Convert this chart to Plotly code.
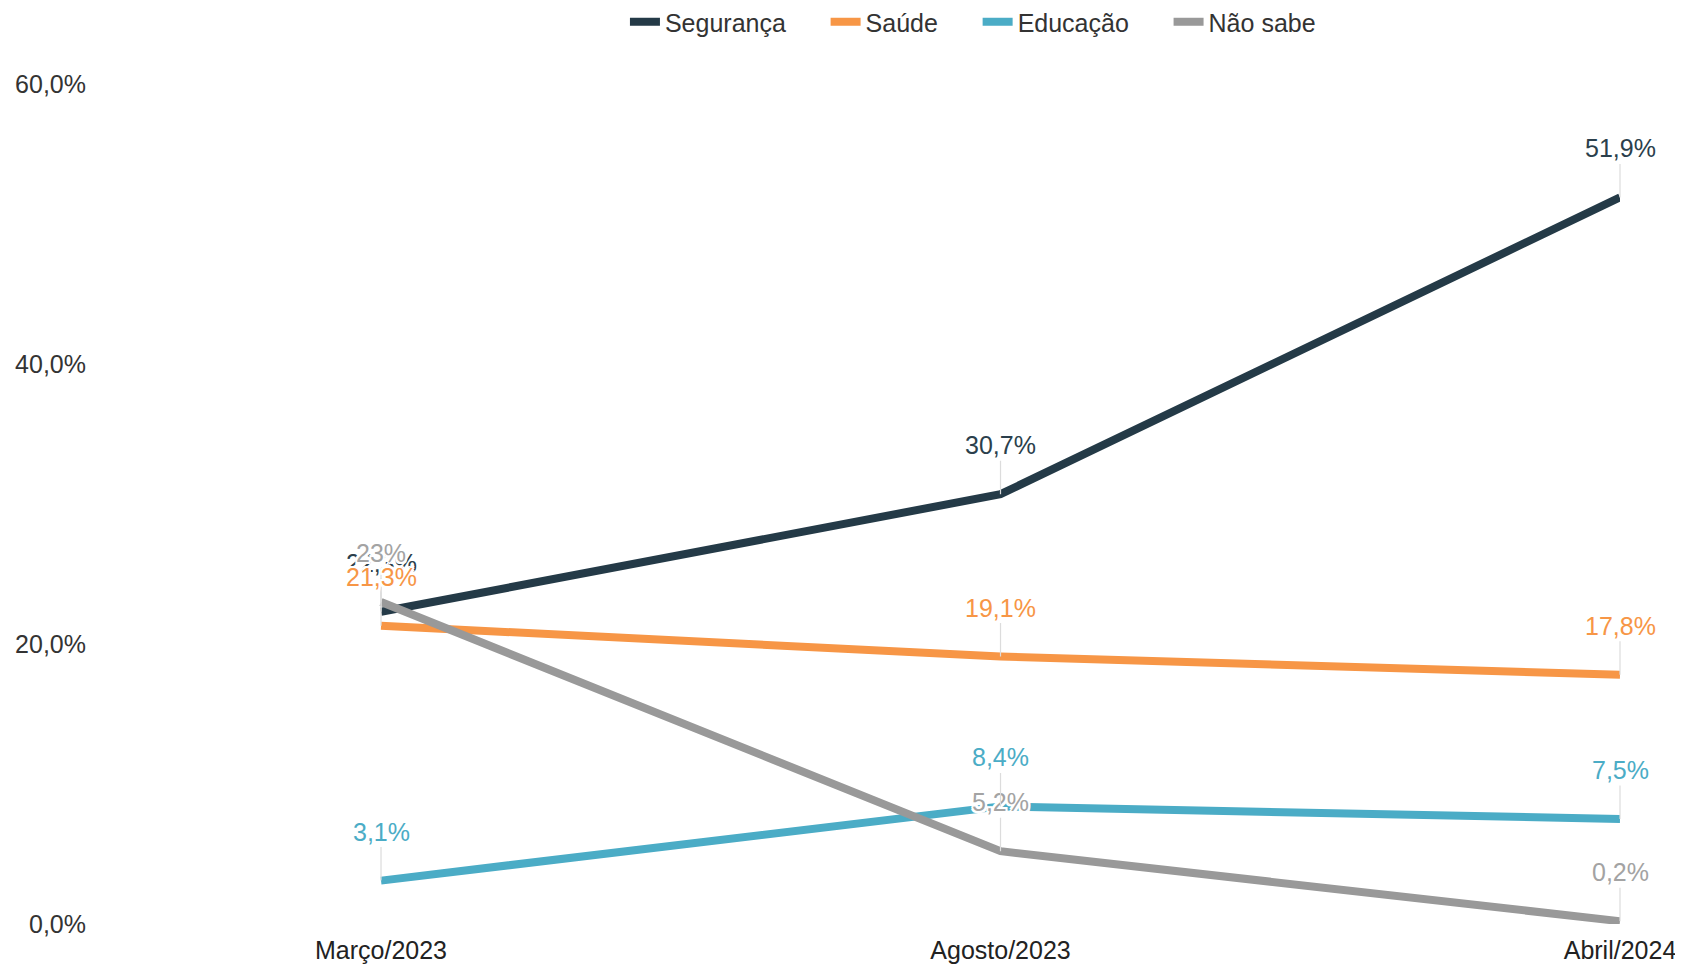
"""Line chart: priority issues over three survey waves."""

import plotly.graph_objects as go

PERIODS = ["Março/2023", "Agosto/2023", "Abril/2024"]

SEGURANCA = [22.3, 30.7, 51.9]
SAUDE = [21.3, 19.1, 17.8]
EDUCACAO = [3.1, 8.4, 7.5]
NAO_SABE = [23, 5.2, 0.2]

Y_TICKS = [0, 20, 40, 60]

FONT = "Liberation Sans, Arial, sans-serif"
FS = 25
HALO = ("2px 0 0 #fff, -2px 0 0 #fff, 0 2px 0 #fff, 0 -2px 0 #fff, "
        "2px 2px 0 #fff, -2px -2px 0 #fff, 2px -2px 0 #fff, -2px 2px 0 #fff")

# name, values, line colour, label colour
SERIES = [
    ("Segurança", SEGURANCA, "#243a47", "#2b3f4c"),
    ("Saúde", SAUDE, "#f79646", "#f79646"),
    ("Educação", EDUCACAO, "#4bacc6", "#4bacc6"),
    ("Não sabe", NAO_SABE, "#999999", "#a3a3a3"),
]
LABEL_ORDER = ["Segurança", "Não sabe", "Saúde", "Educação"]


def pct_label(v):
    if float(v).is_integer():
        return f"{int(v)}%"
    return f"{v:.1f}%".replace(".", ",")


fig = go.Figure()
x_idx = list(range(len(PERIODS)))
for k, (name, values, color, _) in enumerate(SERIES):
    pad = "\u00a0" * 5 if k < len(SERIES) - 1 else ""
    fig.add_trace(
        go.Scatter(
            x=x_idx,
            y=values,
            mode="lines",
            name=name + pad,
            line=dict(color=color, width=8),
            hoverinfo="skip",
        )
    )

lookup = {s[0]: s for s in SERIES}
annotations = []
for name in LABEL_ORDER:
    _, values, _, label_color = lookup[name]
    for i, v in enumerate(values):
        annotations.append(
            dict(
                x=i,
                y=v,
                xref="x",
                yref="y",
                text=pct_label(v),
                showarrow=True,
                arrowhead=0,
                arrowwidth=1.2,
                arrowcolor="#dcdcdc",
                ax=0,
                ay=-49,
                font=dict(family=FONT, size=FS, color=label_color, shadow=HALO),
            )
        )

# the page body adds an 8px offset, so the figure is 8px smaller than the window
fig.update_layout(
    width=1675,
    height=957,
    margin=dict(l=87, r=63, t=76, b=41, autoexpand=False),
    paper_bgcolor="white",
    plot_bgcolor="white",
    separators=",.",
    font=dict(family=FONT, size=FS, color="#333333"),
    showlegend=True,
    legend=dict(
        orientation="h",
        x=0.5757,
        xanchor="center",
        y=1.0738,
        yanchor="middle",
        font=dict(size=FS, color="#333333"),
        traceorder="normal",
    ),
    annotations=annotations,
    xaxis=dict(
        tickmode="array",
        tickvals=x_idx,
        ticktext=PERIODS,
        range=[-0.4617, 2],
        showgrid=False,
        zeroline=False,
        showline=False,
        ticks="",
        ticklabelstandoff=9,
        tickfont=dict(size=FS, color="#222222"),
        automargin=False,
    ),
    yaxis=dict(
        range=[0, 60],
        tickmode="array",
        tickvals=Y_TICKS,
        ticktext=[f"{t:.1f}%".replace(".", ",") for t in Y_TICKS],
        showgrid=False,
        zeroline=False,
        showline=False,
        ticks="",
        ticklabelstandoff=8,
        tickfont=dict(size=FS, color="#333333"),
        automargin=False,
    ),
)

fig.write_html("out.html")
